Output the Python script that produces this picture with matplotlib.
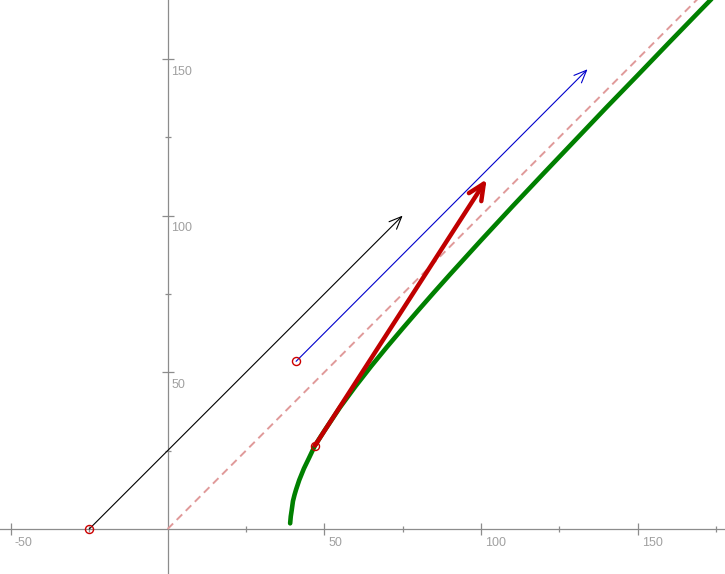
import matplotlib
matplotlib.use("Agg")
import matplotlib.pyplot as plt
from matplotlib.patches import FancyArrowPatch

# ---- data ----
x_major = [-50, 50, 100, 150]
x_minor = [-25, 25, 75, 125, 175]
y_major = [50, 100, 150]
y_minor = [25, 75, 125]
x_labels = ["-50", "50", "100", "150"]
y_labels = ["50", "100", "150"]

# green curve (traced points)
curve_x = [39.1, 39.3, 39.6, 40.0, 40.5, 41.0, 42.0, 43.5, 45.0, 47.0, 50.0, 55.0,
           60.0, 65.0, 70.0, 75.0, 80.0, 85.0, 90.0, 100.0, 110.0, 120.0, 130.0,
           140.0, 150.0, 160.0, 170.0, 175.0]
curve_y = [1.8, 4.0, 6.0, 8.9, 10.9, 12.6, 15.6, 19.3, 22.4, 26.6, 31.3, 38.8,
           45.6, 52.0, 58.1, 64.0, 69.8, 75.5, 81.1, 92.1, 102.9, 113.5, 124.0,
           134.5, 144.8, 155.2, 165.5, 170.6]

# dashed diagonal
diag_x = [0, 180]
diag_y = [0, 180]

# arrows: start point, end point
black_start = (-25.0, 0.0)
black_end = (75.0, 100.0)
blue_start = (41.0, 53.5)
blue_end = (134.0, 146.7)
red_start = (47.0, 26.6)
red_end = (101.8, 111.6)

points_x = [black_start[0], blue_start[0], red_start[0]]
points_y = [black_start[1], blue_start[1], red_start[1]]

# ---- figure ----
fig = plt.figure(figsize=(7.25, 5.74), dpi=100)
ax = fig.add_axes([0, 0, 1, 1])
ax.set_xlim(-53.48, 177.86)
ax.set_ylim(-14.36, 168.8)

axis_col = "#8c8c8c"
for s in ["top", "right"]:
    ax.spines[s].set_visible(False)
for s in ["left", "bottom"]:
    ax.spines[s].set_position(("data", 0))
    ax.spines[s].set_color(axis_col)
    ax.spines[s].set_linewidth(0.9)
    ax.spines[s].set_zorder(1)

ax.set_xticks(x_major)
ax.set_xticks(x_minor, minor=True)
ax.set_yticks(y_major)
ax.set_yticks(y_minor, minor=True)
ax.tick_params(which="major", direction="inout", length=8.6, width=0.9,
               color=axis_col, labelbottom=False, labelleft=False)
ax.tick_params(which="minor", direction="inout", length=4.3, width=0.9,
               color=axis_col)

lab_col = "#a0a0a0"
for v, t in zip(x_major, x_labels):
    ax.annotate(t, xy=(v, 0), xytext=(2.8, -5.8), textcoords="offset points",
                ha="left", va="top", fontsize=9, color=lab_col,
                family="Liberation Sans")
for v, t in zip(y_major, y_labels):
    ax.annotate(t, xy=(0, v), xytext=(2.5, -4.8), textcoords="offset points",
                ha="left", va="top", fontsize=9, color=lab_col,
                family="Liberation Sans")

# dashed diagonal
ax.plot(diag_x, diag_y, color="#e09a9a", lw=1.4, linestyle=(0, (4.0, 2.6)),
        zorder=2)

# green curve
ax.plot(curve_x, curve_y, color="#008000", lw=3.3, solid_capstyle="round",
        solid_joinstyle="round", zorder=3)

def arrow(p0, p1, color, lw, hl, hw, z):
    a = FancyArrowPatch(p0, p1,
                        arrowstyle=f"->,head_length={hl},head_width={hw}",
                        mutation_scale=1, color=color, lw=lw,
                        shrinkA=0, shrinkB=0, zorder=z,
                        capstyle="round", joinstyle="round")
    ax.add_patch(a)

arrow(black_start, black_end, "#000000", 0.8, 9.0, 3.8, 4)
arrow(blue_start, blue_end, "#0000cc", 0.8, 9.0, 3.8, 4)
arrow(red_start, red_end, "#c00000", 3.2, 11.5, 5.3, 5)

ax.plot(points_x, points_y, linestyle="none", marker="o", markersize=5.8,
        markerfacecolor="none", markeredgecolor="#cc0000", markeredgewidth=1.0,
        zorder=6)

fig.savefig("out.png", dpi=100)
